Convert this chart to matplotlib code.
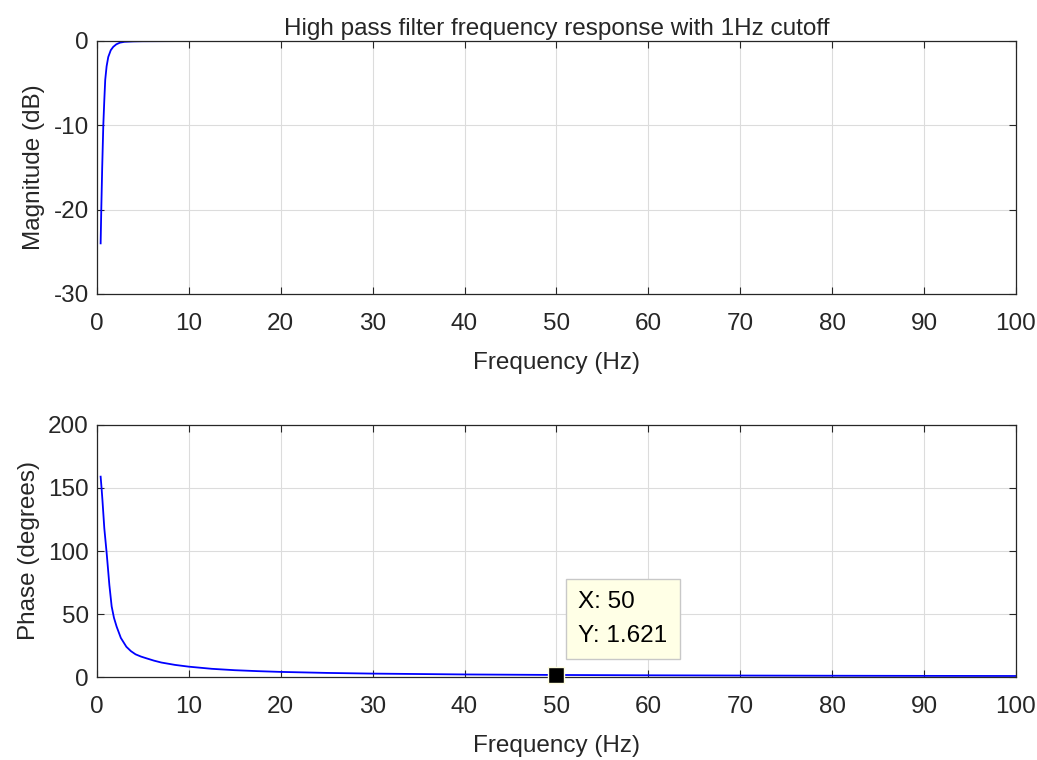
import matplotlib.pyplot as plt

plt.rcParams['font.family'] = ['Liberation Sans', 'DejaVu Sans']
plt.rcParams['axes.unicode_minus'] = False

# Magnitude response
freq_mag = [0.4, 0.47, 0.57, 0.69, 0.8, 0.9, 1.05, 1.23, 1.5, 1.77, 2.1, 2.5, 3.0, 4.0, 5.0, 10, 20, 50, 100]
mag_db = [-24, -20, -15, -10, -7, -4.6, -3, -1.9, -1.1, -0.7, -0.4, -0.2, -0.1, -0.05, -0.03, -0.01, 0, 0, 0]

# Phase response
freq_phase = [0.4, 0.5, 0.6, 0.7, 0.8, 0.93, 1.06, 1.2, 1.35, 1.6, 1.85, 2.14, 2.6, 3.2, 3.7,
              4.2, 4.8, 5.4, 6.2, 7, 8.5, 10, 12.5, 15, 17.5, 20, 25, 30, 40, 50,
              60, 70, 80, 90, 100]
phase_deg = [159, 150, 140, 129, 118, 108, 98, 86, 73, 56, 47, 40, 31, 24, 20.5,
             18, 16.2, 14.8, 13, 11.5, 9.6, 8.2, 6.5, 5.4, 4.65, 4.05, 3.25, 2.7, 2.03, 1.621,
             1.35, 1.16, 1.01, 0.9, 0.81]

# Data tip
tip_x = 50
tip_y = 1.621

x_ticks = list(range(0, 101, 10))
mag_ticks = [-30, -20, -10, 0]
phase_ticks = [0, 50, 100, 150, 200]

FS = 17.5
TXT = '#262626'

fig = plt.figure(figsize=(10.37, 7.6), dpi=100)
ax1 = fig.add_axes([0.0935, 0.6132, 0.8862, 0.3329])
ax2 = fig.add_axes([0.0935, 0.1092, 0.8862, 0.3316])

def style(ax):
    ax.grid(True, color='#dcdcdc', linewidth=0.8)
    ax.set_axisbelow(True)
    ax.tick_params(direction='in', top=True, right=True, length=5,
                   labelsize=FS, colors=TXT)
    ax.tick_params(axis='x', pad=14)
    ax.tick_params(axis='y', pad=6)
    for s in ax.spines.values():
        s.set_color(TXT)
        s.set_linewidth(0.9)
    ax.set_xlim(0, 100)
    ax.set_xticks(x_ticks)
    ax.set_xlabel('Frequency (Hz)', fontsize=FS, color=TXT, labelpad=12)

ax1.plot(freq_mag, mag_db, color='blue', linewidth=1.3)
style(ax1)
ax1.set_ylim(-30, 0)
ax1.set_yticks(mag_ticks)
ax1.set_ylabel('Magnitude (dB)', fontsize=FS, color=TXT, labelpad=6)
ax1.set_title('High pass filter frequency response with 1Hz cutoff',
              fontsize=FS, color=TXT, pad=4)

ax2.plot(freq_phase, phase_deg, color='blue', linewidth=1.3)
style(ax2)
ax2.set_ylim(0, 200)
ax2.set_yticks(phase_ticks)
ax2.set_ylabel('Phase (degrees)', fontsize=FS, color=TXT, labelpad=6)

ax2.plot([tip_x], [tip_y], marker='s', markersize=12, color='black',
         markeredgecolor='#fffee0', markeredgewidth=1, clip_on=False, zorder=5)
ax2.annotate(f'X: {tip_x}\nY: {tip_y}', xy=(tip_x, tip_y),
             xytext=(22, 28), textcoords='offset pixels',
             ha='left', va='bottom', fontsize=FS, linespacing=1.7, color='black',
             bbox=dict(boxstyle='square,pad=0.5', facecolor='#ffffe6',
                       edgecolor='#c8c8c8', linewidth=1))

plt.savefig('out.png', dpi=100)
